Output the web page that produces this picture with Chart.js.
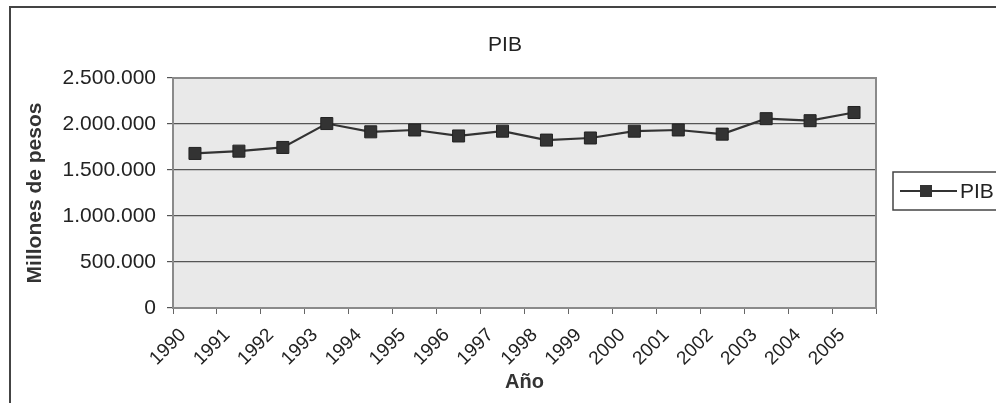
<!DOCTYPE html>
<html>
<head>
<meta charset="utf-8">
<script src="https://cdn.jsdelivr.net/npm/chart.js@4"></script>
<style>
  html, body { margin: 0; padding: 0; background: #fff; }
  #wrap { position: relative; width: 996px; height: 403px; }
</style>
</head>
<body>
<div id="wrap"><canvas id="pibChart" width="996" height="403"></canvas></div>
<script>
const years = ['1990', '1991', '1992', '1993', '1994', '1995', '1996', '1997',
  '1998', '1999', '2000', '2001', '2002', '2003', '2004', '2005'];
const pib = [1680000, 1705000, 1745000, 2005000, 1915000, 1935000, 1870000, 1922000,
  1825000, 1848000, 1922000, 1935000, 1890000, 2058000, 2036000, 2125000];
const yTicks = [0, 500000, 1000000, 1500000, 2000000, 2500000];
const chartTitle = 'PIB';

const FONT = 'Liberation Sans, Arial, sans-serif';
const INK = '#333';

// fondo gris del área de trazado, marco exterior y título centrado en todo el ancho
const plotBg = {
  id: 'plotBg',
  beforeDraw(chart) {
    const { ctx, chartArea: a } = chart;
    ctx.save();
    ctx.fillStyle = '#fff';
    ctx.fillRect(0, 0, chart.width, chart.height);
    ctx.strokeStyle = '#444';
    ctx.lineWidth = 2;
    ctx.strokeRect(10, 7, chart.width + 20, chart.height + 20);
    ctx.fillStyle = '#e9e9e9';
    ctx.fillRect(a.left, a.top, a.right - a.left, a.bottom - a.top);
    ctx.fillStyle = '#222';
    ctx.font = '21px ' + FONT;
    ctx.textAlign = 'center';
    ctx.textBaseline = 'middle';
    ctx.fillText(chartTitle, 505, 45);
    ctx.restore();
  },
  afterDatasetsDraw(chart) {
    const { ctx, chartArea: a } = chart;
    ctx.save();
    ctx.strokeStyle = '#8a8a8a';
    ctx.lineWidth = 2;
    ctx.strokeRect(a.left, a.top, a.right - a.left, a.bottom - a.top);
    ctx.restore();
  }
};

// leyenda estilo Excel: caja, línea con marcador y texto
const boxLegend = {
  id: 'boxLegend',
  afterDraw(chart) {
    const { ctx } = chart;
    const ds = chart.data.datasets[0];
    const x = 893, y = 172, h = 38;
    const cy = y + h / 2;
    ctx.save();
    ctx.strokeStyle = '#444';
    ctx.lineWidth = 1.5;
    ctx.strokeRect(x, y, 120, h);
    ctx.strokeStyle = INK;
    ctx.lineWidth = 2;
    ctx.beginPath();
    ctx.moveTo(900, cy);
    ctx.lineTo(957, cy);
    ctx.stroke();
    ctx.fillStyle = INK;
    ctx.fillRect(920, cy - 6, 12, 12);
    ctx.fillStyle = '#222';
    ctx.font = '21px ' + FONT;
    ctx.textBaseline = 'middle';
    ctx.fillText(ds.label, 960, cy + 1);
    ctx.restore();
  }
};

new Chart(document.getElementById('pibChart'), {
  type: 'line',
  data: {
    labels: years,
    datasets: [{
      label: 'PIB',
      data: pib,
      borderColor: INK,
      borderWidth: 2.2,
      backgroundColor: INK,
      pointStyle: 'rect',
      pointRadius: 8.5,
      pointBorderWidth: 1,
      pointBorderColor: '#222',
      tension: 0
    }]
  },
  options: {
    responsive: false,
    animation: false,
    layout: { padding: { left: 11, right: 120, top: 78, bottom: 0 } },
    plugins: {
      legend: { display: false },
      tooltip: { enabled: false },
      title: { display: false }
    },
    scales: {
      x: {
        offset: true,
        grid: { offset: true, drawOnChartArea: false, drawTicks: true, tickLength: 6, color: '#666' },
        border: { display: false },
        ticks: {
          color: '#222',
          font: { family: FONT, size: 19 },
          maxRotation: 45,
          minRotation: 45,
          autoSkip: false,
          padding: 10,
          labelOffset: -12
        },
        title: {
          display: true,
          text: 'Año',
          color: '#333',
          font: { family: FONT, size: 20, weight: 'bold' },
          padding: { top: 0, bottom: 9 }
        },
        afterFit(scale) { scale.height = 95; }
      },
      y: {
        min: 0,
        max: 2500000,
        afterBuildTicks(scale) { scale.ticks = yTicks.map(v => ({ value: v })); },
        grid: { color: '#555', lineWidth: 1.2, drawTicks: true, tickLength: 6 },
        border: { display: false },
        ticks: {
          color: '#222',
          font: { family: FONT, size: 21 },
          padding: 11,
          callback: v => v.toString().replace(/\B(?=(\d{3})+(?!\d))/g, '.')
        },
        title: {
          display: true,
          text: 'Millones de pesos',
          color: '#333',
          font: { family: FONT, size: 21, weight: 'bold' },
          padding: { top: 12, bottom: 0 }
        },
        afterFit(scale) { scale.width = 173 - 11; }
      }
    }
  },
  plugins: [plotBg, boxLegend]
});
</script>
</body>
</html>
